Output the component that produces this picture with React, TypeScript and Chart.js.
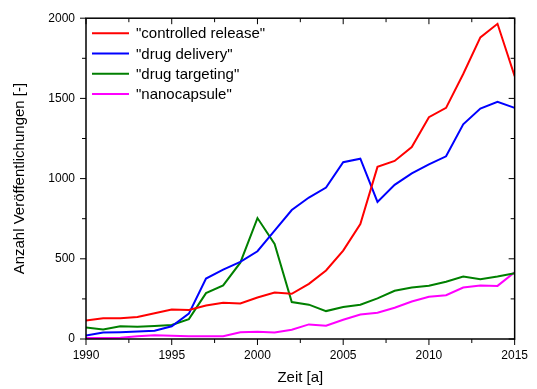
import React, { useEffect, useRef } from "react";
import { Chart, registerables } from "chart.js";

Chart.register(...registerables);

// Publications per year for each search term
const years = [
  1990, 1991, 1992, 1993, 1994, 1995, 1996, 1997, 1998, 1999, 2000, 2001, 2002,
  2003, 2004, 2005, 2006, 2007, 2008, 2009, 2010, 2011, 2012, 2013, 2014, 2015,
];
const controlledRelease = [
  116, 130, 130, 137, 161, 184, 181, 209, 226, 222, 259, 290, 282, 344, 427, 551,
  717, 1073, 1110, 1197, 1383, 1441, 1652, 1880, 1965, 1638,
];
const drugDelivery = [
  22, 40, 42, 46, 52, 79, 158, 377, 433, 481, 547, 675, 804, 882, 944, 1102, 1124,
  855, 961, 1033, 1089, 1139, 1338, 1437, 1478, 1441,
];
const drugTargeting = [
  71, 60, 79, 76, 81, 87, 124, 286, 334, 476, 754, 593, 230, 214, 174, 199, 214,
  253, 301, 321, 332, 357, 389, 373, 389, 410,
];
const nanocapsule = [
  6, 6, 8, 17, 23, 20, 17, 17, 17, 42, 45, 40, 58, 91, 83, 120, 153, 164, 195, 234,
  263, 273, 321, 333, 331, 416,
];

const seriesLabels = [
  '"controlled release"',
  '"drug delivery"',
  '"drug targeting"',
  '"nanocapsule"',
];
const seriesColors = ["#ff0000", "#0000ff", "#008000", "#ff00ff"];
const seriesValues = [controlledRelease, drugDelivery, drugTargeting, nanocapsule];

const FONT = "'Liberation Sans', Arial, Helvetica, sans-serif";

// Box frame with outward ticks on bottom/left and inward ticks on top/right
const framePlugin = {
  id: "frameTicks",
  afterDraw(chart: any) {
    const { ctx, chartArea: a, scales } = chart;
    const xs = scales.x;
    const ys = scales.y;
    ctx.save();
    ctx.strokeStyle = "#000";
    ctx.lineWidth = 1;
    const seg = (x1: number, y1: number, x2: number, y2: number) => {
      ctx.beginPath();
      ctx.moveTo(x1, y1);
      ctx.lineTo(x2, y2);
      ctx.stroke();
    };
    xs.ticks.forEach((t: any) => {
      const px = xs.getPixelForValue(t.value);
      const len = t.value % 5 === 0 ? 6 : 4;
      seg(px, a.bottom, px, a.bottom + len);
      seg(px, a.top, px, a.top + len);
    });
    ys.ticks.forEach((t: any) => {
      const py = ys.getPixelForValue(t.value);
      const len = t.value % 500 === 0 ? 6 : 4;
      seg(a.left - len, py, a.left, py);
      seg(a.right - len, py, a.right, py);
    });
    ctx.lineWidth = 1.5;
    ctx.strokeRect(a.left, a.top, a.right - a.left, a.bottom - a.top);
    ctx.restore();
  },
};

// Legend drawn inside the plot area, top-left corner
const insideLegendPlugin = {
  id: "insideLegend",
  afterDraw(chart: any) {
    const { ctx, chartArea: a } = chart;
    ctx.save();
    ctx.font = `15px ${FONT}`;
    ctx.textBaseline = "middle";
    ctx.textAlign = "left";
    chart.data.datasets.forEach((ds: any, i: number) => {
      const y = a.top + 15 + i * 20.3;
      ctx.strokeStyle = ds.borderColor;
      ctx.lineWidth = 2;
      ctx.beginPath();
      ctx.moveTo(a.left + 6, y);
      ctx.lineTo(a.left + 43, y);
      ctx.stroke();
      ctx.fillStyle = "#000";
      ctx.fillText(ds.label, a.left + 50, y + 1);
    });
    ctx.restore();
  },
};

export default function App() {
  const canvasRef = useRef<HTMLCanvasElement | null>(null);

  useEffect(() => {
    document.body.style.margin = "0";
    const canvas = canvasRef.current;
    if (!canvas) return;

    const datasets = seriesValues.map((vals, i) => ({
      label: seriesLabels[i],
      data: years.map((yr, j) => ({ x: yr, y: vals[j] })),
      borderColor: seriesColors[i],
      backgroundColor: seriesColors[i],
      borderWidth: 2,
      pointRadius: 0,
      tension: 0,
      fill: false,
    }));

    const chart = new Chart(canvas, {
      type: "line",
      data: { datasets },
      options: {
        animation: false,
        responsive: false,
        devicePixelRatio: 1,
        layout: { padding: { top: 16, right: 13, left: 0, bottom: 0 } },
        plugins: {
          legend: { display: false },
          tooltip: { enabled: false },
        },
        scales: {
          x: {
            type: "linear",
            min: 1990,
            max: 2015,
            grid: { display: false, drawTicks: false },
            border: { display: false },
            ticks: {
              stepSize: 2.5,
              autoSkip: false,
              maxRotation: 0,
              padding: 9,
              color: "#000",
              font: { family: FONT, size: 12 },
              callback: (v: any) => (Number(v) % 5 === 0 ? String(v) : ""),
            },
            title: {
              display: true,
              text: "Zeit [a]",
              color: "#000",
              font: { family: FONT, size: 15 },
              padding: { top: 0, bottom: 2 },
            },
            afterFit: (s: any) => {
              s.height = 50;
            },
          },
          y: {
            min: 0,
            max: 2000,
            grid: { display: false, drawTicks: false },
            border: { display: false },
            ticks: {
              stepSize: 250,
              autoSkip: false,
              padding: 11,
              color: "#000",
              font: { family: FONT, size: 12 },
              callback: (v: any) => (Number(v) % 500 === 0 ? String(v) : ""),
            },
            title: {
              display: true,
              text: "Anzahl Veröffentlichungen [-]",
              color: "#000",
              font: { family: FONT, size: 15 },
              padding: { top: 11, bottom: 0 },
            },
            afterFit: (s: any) => {
              s.width = 86;
            },
          },
        },
      },
      plugins: [framePlugin, insideLegendPlugin],
    });

    return () => chart.destroy();
  }, []);

  return (
    <div style={{ width: 537, height: 389 }}>
      <canvas ref={canvasRef} width={537} height={389} />
    </div>
  );
}
